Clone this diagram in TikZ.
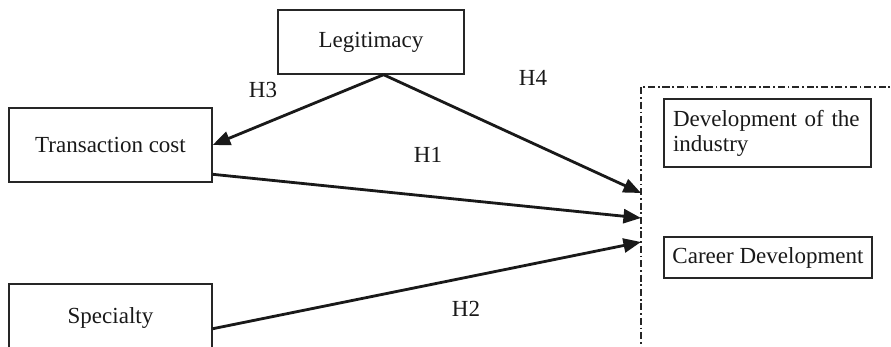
\documentclass[tikz,border=0pt]{standalone}
\usepackage{fontspec}
\setmainfont{Liberation Serif}
\usetikzlibrary{arrows.meta}
\tikzstyle{factor} = [rectangle, draw=black!85, line width=0.8pt, text=black!90, font=\fontsize{13.1pt}{14.2pt}\selectfont]
\tikzstyle{hyp} = [text=black!90, font=\fontsize{13.1pt}{14.2pt}\selectfont]
\tikzstyle{arrow} = [line width=1.6pt, draw=black!90, -{Triangle[length=10pt, width=8pt]}]
\tikzstyle{frame} = [line width=0.8pt, draw=black!85, dash pattern=on 4pt off 1.6pt on 1pt off 1.6pt]

\begin{document}
\begin{tikzpicture}[x=0.02cm, y=-0.02cm]
    \clip (0,0) rectangle (891,347);
    % antecedents
    \node (Leg) [factor, minimum width=3.72cm, minimum height=1.28cm] at (371,42) {Legitimacy};
    \node (Cost) [factor, minimum width=4.06cm, minimum height=1.48cm] at (110.5,145) {Transaction cost};
    \node (Spec) [factor, minimum width=4.06cm, minimum height=1.36cm] at (110.5,318) {Specialty};
    % outcomes inside the dash-dot frame
    \draw [frame] (900,87) -- (641,87) -- (641,360);
    \node (Industry) [factor, text width=3.78cm, inner xsep=0.18cm, align=left, minimum height=1.36cm] at (767.5,133) {Development of the\\industry};
    \node (Career) [factor, minimum width=4.16cm, minimum height=0.82cm] at (768,257.5) {Career Development};
    \coordinate (InA) at (641,193);
    \coordinate (InB) at (641,218);
    \coordinate (InC) at (641,242);
    % hypotheses
    \draw [arrow] (Leg.-69) -- (Cost.east);
    \draw [arrow] (Leg.-69) -- (InA);
    \draw [arrow] (Cost.-16) -- (InB);
    \draw [arrow] (Spec.-6) -- (InC);
    \node (H3) [hyp] at (263,90) {H3};
    \node (H4) [hyp] at (533,78) {H4};
    \node (H1) [hyp] at (428,155) {H1};
    \node (H2) [hyp] at (466,309) {H2};
\end{tikzpicture}
\end{document}
